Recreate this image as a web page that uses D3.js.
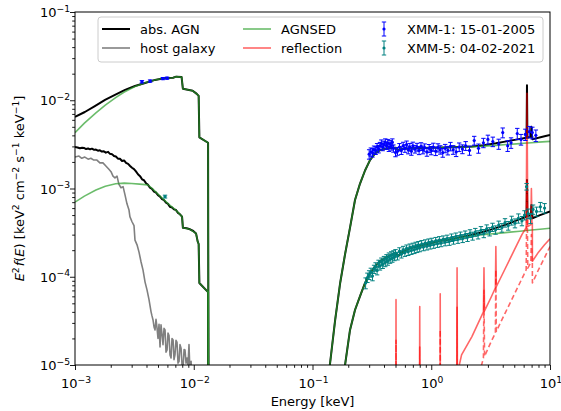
<!DOCTYPE html>
<html><head><meta charset="utf-8">
<script src="https://cdn.jsdelivr.net/npm/d3@7"></script>
<style>body{margin:0;background:#fff} text{font-family:"DejaVu Sans",sans-serif;}</style>
</head><body><svg id="c" width="561" height="411"></svg>
<script>
// ---------------- DATA ----------------
const xTicks = [1e-3, 1e-2, 1e-1, 1, 10];
const xTickExp = ["−3", "−2", "−1", "0", "1"];
const yTicks = [1e-5, 1e-4, 1e-3, 1e-2, 1e-1];
const yTickExp = ["−5", "−4", "−3", "−2", "−1"];

// abs. AGN, XMM-1 (upper) UV/optical part
const agnHiUV_E = [1.0e-3,1.21e-3,1.47e-3,1.79e-3,2.17e-3,2.64e-3,3.2e-3,3.89e-3,4.72e-3,5.73e-3,6.7e-3,7.1e-3,7.9e-3,8.1e-3,9.8e-3,1.06e-2,1.10e-2,1.115e-2,1.32e-2,1.34e-2];
const agnHiUV_F = [6.5e-3,7.36e-3,8.6e-3,1.01e-2,1.15e-2,1.31e-2,1.45e-2,1.57e-2,1.70e-2,1.79e-2,1.80e-2,1.85e-2,1.83e-2,1.35e-2,1.28e-2,1.18e-2,1.12e-2,3.8e-3,3.3e-3,1e-8];
// abs. AGN, XMM-5 (lower) UV/optical part
const agnLoUV_E = [1.00e-3,1.05e-3,1.10e-3,1.15e-3,1.19e-3,1.24e-3,1.29e-3,1.34e-3,1.39e-3,1.45e-3,1.50e-3,1.56e-3,1.62e-3,1.68e-3,1.75e-3,1.82e-3,1.90e-3,1.97e-3,2.05e-3,2.13e-3,2.21e-3,2.30e-3,2.39e-3,2.49e-3,2.59e-3,2.69e-3,2.80e-3,2.91e-3,3.02e-3,3.14e-3,3.26e-3,3.39e-3,3.53e-3,3.67e-3,3.81e-3,3.96e-3,4.12e-3,4.28e-3,4.45e-3,4.63e-3,4.81e-3,5.0e-3,5.2e-3,5.41e-3,5.62e-3,5.84e-3,6.07e-3,6.31e-3,6.56e-3,6.82e-3,7.09e-3,7.37e-3,7.66e-3,7.97e-3,8.1e-3,8.7e-3,9.3e-3,9.9e-3,1.045e-2,1.08e-2,1.10e-2,1.115e-2,1.32e-2,1.34e-2];
const agnLoUV_F = [2.95e-3,2.92e-3,2.86e-3,2.90e-3,2.88e-3,2.80e-3,2.84e-3,2.78e-3,2.83e-3,2.74e-3,2.76e-3,2.68e-3,2.71e-3,2.62e-3,2.64e-3,2.55e-3,2.60e-3,2.47e-3,2.45e-3,2.33e-3,2.30e-3,2.18e-3,2.17e-3,2.05e-3,2.08e-3,1.95e-3,1.90e-3,1.80e-3,1.72e-3,1.66e-3,1.56e-3,1.45e-3,1.38e-3,1.27e-3,1.24e-3,1.15e-3,1.10e-3,1.02e-3,9.9e-4,9.2e-4,9.0e-4,8.4e-4,8.1e-4,7.6e-4,7.4e-4,6.9e-4,6.7e-4,6.2e-4,6.1e-4,5.8e-4,5.7e-4,5.3e-4,5.1e-4,4.8e-4,3.6e-4,3.55e-4,3.45e-4,3.3e-4,3.1e-4,2.5e-4,2.35e-4,8.5e-5,6.7e-5,1e-8];
// abs. AGN X-ray parts
const agnHiX_E = [0.125,0.14,0.155,0.171,0.188,0.207,0.228,0.251,0.277,0.305,0.336,0.37,0.41,0.45,0.50,0.53,0.55,0.60,0.70,0.80,1.0,1.3,1.7,2.2,2.8,3.5,4.3,5.2,6.0,6.35,6.4,6.45,6.9,6.97,7.05,7.1,7.11,8.0,9.0,10.0];
const agnHiX_F = [4e-6,1.0e-5,3.2e-5,8.5e-5,1.8e-4,3.6e-4,7.4e-4,1.13e-3,1.6e-3,2.1e-3,2.5e-3,2.72e-3,2.82e-3,2.88e-3,2.9e-3,2.72e-3,2.78e-3,2.83e-3,2.86e-3,2.88e-3,2.9e-3,2.92e-3,2.95e-3,3.0e-3,3.1e-3,3.25e-3,3.42e-3,3.58e-3,3.7e-3,3.75e-3,1.48e-2,3.75e-3,3.85e-3,5.0e-3,3.87e-3,3.88e-3,3.62e-3,3.75e-3,3.9e-3,4.05e-3];
const agnLoX_E = [0.17,0.188,0.207,0.228,0.251,0.277,0.305,0.336,0.37,0.45,0.50,0.53,0.55,0.66,0.8,0.975,1.19,1.44,1.75,2.12,2.57,3.13,3.8,4.6,5.58,6.2,6.35,6.4,6.45,6.9,6.97,7.05,7.1,7.11,8.24,10.0];
const agnLoX_F = [3e-6,1.0e-5,2.5e-5,4.2e-5,6.0e-5,8.5e-5,1.1e-4,1.3e-4,1.5e-4,1.75e-4,1.85e-4,1.72e-4,1.85e-4,2.1e-4,2.25e-4,2.4e-4,2.55e-4,2.65e-4,2.8e-4,2.95e-4,3.15e-4,3.4e-4,3.7e-4,4.05e-4,4.5e-4,4.75e-4,4.8e-4,1.25e-3,4.85e-4,5.0e-4,6.5e-4,5.05e-4,5.1e-4,4.6e-4,5.0e-4,5.5e-4];

// host galaxy
const hostE = [1.0e-3,1.08e-3,1.14e-3,1.21e-3,1.29e-3,1.36e-3,1.44e-3,1.53e-3,1.62e-3,1.72e-3,1.82e-3,1.93e-3,2.01e-3,2.09e-3,2.17e-3,2.26e-3,2.34e-3,2.44e-3,2.54e-3,2.64e-3,2.74e-3,2.85e-3,2.9e-3,3.02e-3,3.14e-3,3.2e-3,3.33e-3,3.46e-3,3.6e-3,3.74e-3,3.89e-3,4.04e-3,4.2e-3,4.37e-3,4.45e-3,4.54e-3,4.63e-3,4.72e-3,4.81e-3,4.91e-3,5.0e-3,5.1e-3,5.2e-3,5.3e-3,5.41e-3,5.51e-3,5.62e-3,5.73e-3,5.84e-3,5.96e-3,6.07e-3,6.19e-3,6.31e-3,6.44e-3,6.56e-3,6.7e-3,6.82e-3,6.95e-3,7.09e-3,7.23e-3,7.37e-3,7.52e-3,7.66e-3,7.82e-3,7.97e-3,8.13e-3,8.29e-3,8.44e-3,8.61e-3,8.78e-3,8.95e-3,9.12e-3,9.3e-3,9.5e-3,9.7e-3];
const hostF = [2.27e-3,2.33e-3,2.2e-3,2.27e-3,2.15e-3,2.2e-3,2.1e-3,2.1e-3,1.95e-3,1.95e-3,1.8e-3,1.65e-3,1.55e-3,1.38e-3,1.32e-3,1.38e-3,1.12e-3,1.02e-3,1.05e-3,8.4e-4,6.7e-4,5.7e-4,4.8e-4,4.2e-4,3.8e-4,2.6e-4,2.3e-4,1.9e-4,1.47e-4,1.19e-4,8.7e-5,7.1e-5,5.5e-5,4.0e-5,3.6e-5,3.24e-5,2.7e-5,2.5e-5,3.3e-5,2.6e-5,2.0e-5,2.9e-5,1.6e-5,2.85e-5,2.2e-5,1.7e-5,2.6e-5,2.5e-5,1.4e-5,1.48e-5,2.3e-5,2.15e-5,1.3e-5,1.2e-5,2.0e-5,1.92e-5,1.15e-5,1.3e-5,1.9e-5,1.8e-5,1.05e-5,1.1e-5,1.7e-5,1.55e-5,1.0e-5,9.2e-6,1.5e-5,1.48e-5,1.05e-5,1.2e-5,1.0e-5,1.7e-5,8e-6,1.1e-5,5e-6];

// AGNSED (green)
const sedHiUV_E = [1.0e-3,1.2e-3,1.5e-3,1.8e-3,2.2e-3,2.6e-3,3.2e-3,3.9e-3,4.7e-3,5.73e-3,6.7e-3,7.1e-3,7.9e-3,8.1e-3,9.8e-3,1.06e-2,1.10e-2,1.115e-2,1.32e-2,1.34e-2];
const sedHiUV_F = [4.3e-3,5.5e-3,7.2e-3,8.8e-3,1.07e-2,1.24e-2,1.43e-2,1.58e-2,1.70e-2,1.79e-2,1.80e-2,1.85e-2,1.83e-2,1.35e-2,1.28e-2,1.18e-2,1.12e-2,3.8e-3,3.3e-3,1e-8];
const sedLoUV_E = [1.0e-3,1.2e-3,1.5e-3,1.8e-3,2.2e-3,2.6e-3,3.0e-3,3.5e-3,4.1e-3,4.5e-3,5.2e-3,6.1e-3,7.1e-3,7.97e-3,8.1e-3,9.3e-3,1.045e-2,1.08e-2,1.10e-2,1.115e-2,1.32e-2,1.34e-2];
const sedLoUV_F = [7.0e-4,8.2e-4,9.6e-4,1.06e-3,1.13e-3,1.15e-3,1.14e-3,1.12e-3,1.10e-3,9.9e-4,8.2e-4,6.7e-4,5.65e-4,4.8e-4,3.6e-4,3.45e-4,3.1e-4,2.5e-4,2.35e-4,8.5e-5,6.7e-5,1e-8];
const sedHiX_E = [0.125,0.14,0.155,0.171,0.188,0.207,0.228,0.251,0.277,0.305,0.336,0.37,0.41,0.45,0.50,0.53,0.55,0.60,0.70,0.80,1.0,1.3,1.7,2.2,2.8,3.5,4.3,5.2,6.0,7.0,8.0,10.0];
const sedHiX_F = [4e-6,1.0e-5,3.2e-5,8.5e-5,1.8e-4,3.6e-4,7.4e-4,1.13e-3,1.6e-3,2.1e-3,2.5e-3,2.72e-3,2.82e-3,2.88e-3,2.9e-3,2.72e-3,2.78e-3,2.83e-3,2.86e-3,2.88e-3,2.9e-3,2.92e-3,2.94e-3,2.97e-3,3.02e-3,3.08e-3,3.15e-3,3.2e-3,3.25e-3,3.3e-3,3.35e-3,3.42e-3];
const sedLoX_E = [0.17,0.188,0.207,0.228,0.251,0.277,0.305,0.336,0.37,0.45,0.50,0.53,0.55,0.66,0.8,0.975,1.19,1.44,1.75,2.12,2.57,3.13,3.8,4.6,5.58,7.0,8.24,10.0];
const sedLoX_F = [3e-6,1.0e-5,2.5e-5,4.2e-5,6.0e-5,8.5e-5,1.1e-4,1.3e-4,1.5e-4,1.75e-4,1.85e-4,1.72e-4,1.85e-4,2.1e-4,2.25e-4,2.4e-4,2.55e-4,2.65e-4,2.78e-4,2.9e-4,2.98e-4,3.05e-4,3.12e-4,3.2e-4,3.28e-4,3.38e-4,3.45e-4,3.55e-4];

// reflection (solid: XMM-1, dashed: XMM-5)
const reflHiE = [0.50,0.505,0.51,0.79,0.80,0.81,1.18,1.19,1.20,1.64,1.65,1.66,1.8,2.2,2.75,2.78,2.81,3.2,3.47,3.5,3.53,4.2,5.0,5.8,6.3,6.4,6.5,6.9,6.97,7.05,7.1,7.11,8.0,9.0,10.0];
const reflHiF = [1e-8,5.5e-5,1e-8,1e-8,4.6e-5,1e-8,1e-8,6.4e-5,1e-8,5e-6,1.26e-4,8e-6,1.3e-5,2.1e-5,4.0e-5,1.26e-4,4.1e-5,5.9e-5,7.5e-5,2.2e-4,7.7e-5,1.24e-4,2.0e-4,3.0e-4,3.6e-4,1.2e-2,3.7e-4,3.9e-4,1.0e-3,4.0e-4,4.1e-4,1.5e-4,1.9e-4,2.3e-4,2.7e-4];
const reflLoE = [0.50,0.505,0.51,0.79,0.80,0.81,1.18,1.19,1.20,1.64,1.65,1.66,2.4,2.75,2.78,2.81,3.2,3.47,3.5,3.53,4.2,5.0,5.8,6.3,6.4,6.5,6.9,6.97,7.05,7.1,7.11,8.0,9.0,10.0];
const reflLoF = [1e-8,1.9e-5,1e-8,1e-8,1.6e-5,1e-8,1e-8,2.5e-5,1e-8,1e-8,4.5e-5,1e-8,6e-6,1.2e-5,7e-5,1.25e-5,1.85e-5,2.3e-5,1.2e-4,2.4e-5,3.9e-5,6.3e-5,9.5e-5,1.2e-4,1.2e-3,1.25e-4,1.45e-4,3.0e-4,1.48e-4,1.5e-4,8.5e-5,1.2e-4,1.65e-4,2.2e-4];

// XMM-1 data (blue)
const xmm1E = [0.30,0.31,0.32,0.33,0.34,0.35,0.36,0.37,0.38,0.39,0.40,0.41,0.42,0.43,0.44,0.45,0.46,0.47,0.48,0.50,0.52,0.54,0.56,0.58,0.60,0.62,0.64,0.66,0.68,0.70,0.73,0.76,0.79,0.82,0.85,0.88,0.92,0.96,1.00,1.04,1.09,1.14,1.19,1.25,1.31,1.38,1.45,1.53,1.62,1.72,1.83,1.95,2.10,2.30,2.50,2.75,3.00,3.30,3.70,4.00,4.40,4.70,5.30,5.70,6.20,6.70,7.10,7.60];
const xmm1F = [2.45e-3,2.60e-3,2.55e-3,2.75e-3,2.70e-3,2.95e-3,2.80e-3,3.05e-3,3.25e-3,2.95e-3,3.15e-3,3.35e-3,3.05e-3,3.30e-3,2.90e-3,3.20e-3,3.00e-3,3.35e-3,2.85e-3,2.55e-3,2.65e-3,2.95e-3,2.70e-3,3.05e-3,2.85e-3,3.15e-3,2.75e-3,2.95e-3,2.65e-3,3.05e-3,2.80e-3,2.95e-3,2.70e-3,3.00e-3,2.75e-3,2.90e-3,2.60e-3,2.85e-3,2.70e-3,2.95e-3,2.65e-3,2.90e-3,2.75e-3,2.55e-3,2.85e-3,2.70e-3,3.00e-3,2.75e-3,2.60e-3,2.95e-3,2.80e-3,3.05e-3,2.70e-3,3.50e-3,2.85e-3,3.30e-3,3.60e-3,3.40e-3,3.20e-3,4.30e-3,3.05e-3,3.30e-3,4.20e-3,3.60e-3,4.10e-3,4.40e-3,4.30e-3,4.00e-3];
const xmm1Err = [3.0e-4,2.8e-4,2.8e-4,2.8e-4,2.7e-4,2.8e-4,2.7e-4,2.8e-4,3.0e-4,2.7e-4,2.8e-4,3.0e-4,2.8e-4,3.0e-4,2.7e-4,2.9e-4,2.8e-4,3.0e-4,2.7e-4,2.6e-4,2.7e-4,2.8e-4,2.7e-4,2.9e-4,2.8e-4,3.0e-4,2.8e-4,2.9e-4,2.7e-4,3.0e-4,2.8e-4,3.0e-4,2.8e-4,3.0e-4,2.8e-4,3.0e-4,2.8e-4,3.0e-4,2.9e-4,3.1e-4,2.9e-4,3.1e-4,3.0e-4,2.9e-4,3.1e-4,3.0e-4,3.3e-4,3.1e-4,3.0e-4,3.3e-4,3.2e-4,3.5e-4,3.2e-4,4.0e-4,3.4e-4,4.0e-4,4.2e-4,4.2e-4,4.2e-4,5.5e-4,4.2e-4,4.5e-4,6.0e-4,5.0e-4,6.0e-4,6.5e-4,6.5e-4,6.0e-4];
const uv1E = [3.66e-3,4.29e-3,5.5e-3,5.96e-3];
const uv1F = [1.62e-2,1.65e-2,1.76e-2,1.78e-2];
const uv1Err = [5e-4,5e-4,5e-4,5e-4];

// XMM-5 data (teal)
const xmm5E = [0.28,0.29,0.30,0.31,0.32,0.33,0.34,0.35,0.36,0.37,0.38,0.39,0.40,0.41,0.42,0.43,0.44,0.45,0.46,0.47,0.48,0.49,0.50,0.52,0.54,0.56,0.58,0.60,0.62,0.64,0.66,0.68,0.70,0.72,0.74,0.76,0.78,0.80,0.83,0.86,0.89,0.92,0.95,0.98,1.01,1.05,1.09,1.13,1.17,1.21,1.26,1.31,1.36,1.42,1.48,1.54,1.61,1.68,1.76,1.84,1.93,2.02,2.12,2.23,2.35,2.48,2.62,2.77,2.93,3.10,3.28,3.48,3.70,3.93,4.18,4.45,4.75,5.07,5.42,5.80,6.10,6.35,6.55,6.85,7.20,7.70,8.30,9.00];
const xmm5F = [8.5e-5,9.8e-5,1.05e-4,1.12e-4,1.02e-4,1.22e-4,1.30e-4,1.18e-4,1.40e-4,1.33e-4,1.48e-4,1.38e-4,1.55e-4,1.45e-4,1.62e-4,1.50e-4,1.70e-4,1.58e-4,1.75e-4,1.62e-4,1.80e-4,1.68e-4,1.85e-4,1.72e-4,1.95e-4,1.80e-4,2.02e-4,1.88e-4,2.10e-4,1.92e-4,2.15e-4,1.98e-4,2.20e-4,2.02e-4,2.25e-4,2.08e-4,2.30e-4,2.12e-4,2.35e-4,2.18e-4,2.40e-4,2.22e-4,2.45e-4,2.28e-4,2.50e-4,2.32e-4,2.55e-4,2.38e-4,2.60e-4,2.42e-4,2.65e-4,2.48e-4,2.70e-4,2.52e-4,2.78e-4,2.60e-4,2.85e-4,2.66e-4,2.92e-4,2.72e-4,3.00e-4,2.80e-4,3.10e-4,2.90e-4,3.20e-4,3.00e-4,3.35e-4,3.10e-4,3.50e-4,3.25e-4,3.65e-4,3.40e-4,3.85e-4,3.60e-4,4.10e-4,3.80e-4,4.35e-4,4.05e-4,4.60e-4,4.30e-4,5.00e-4,1.05e-3,5.20e-4,4.60e-4,5.80e-4,5.50e-4,6.20e-4,6.00e-4];
const xmm5Err = [1.2e-5,1.2e-5,1.2e-5,1.3e-5,1.2e-5,1.3e-5,1.4e-5,1.3e-5,1.4e-5,1.4e-5,1.5e-5,1.4e-5,1.5e-5,1.5e-5,1.6e-5,1.5e-5,1.6e-5,1.6e-5,1.7e-5,1.6e-5,1.7e-5,1.6e-5,1.8e-5,1.7e-5,1.8e-5,1.7e-5,1.9e-5,1.8e-5,1.9e-5,1.8e-5,2.0e-5,1.9e-5,2.0e-5,1.9e-5,2.1e-5,2.0e-5,2.1e-5,2.0e-5,2.2e-5,2.1e-5,2.2e-5,2.1e-5,2.3e-5,2.2e-5,2.3e-5,2.2e-5,2.4e-5,2.3e-5,2.5e-5,2.3e-5,2.5e-5,2.4e-5,2.6e-5,2.5e-5,2.7e-5,2.6e-5,2.8e-5,2.7e-5,2.9e-5,2.8e-5,3.0e-5,2.9e-5,3.1e-5,3.0e-5,3.3e-5,3.2e-5,3.5e-5,3.3e-5,3.7e-5,3.5e-5,3.9e-5,3.7e-5,4.2e-5,4.0e-5,4.5e-5,4.3e-5,5.0e-5,4.7e-5,5.5e-5,5.2e-5,6.0e-5,9.0e-5,6.5e-5,6.0e-5,7.0e-5,6.5e-5,7.5e-5,7.5e-5];
const uv5E = [5.73e-3];
const uv5F = [8.1e-4];
const uv5Err = [3e-5];

const legendLabels = ["abs. AGN","host galaxy","AGNSED","reflection","XMM-1: 15-01-2005","XMM-5: 04-02-2021"];

// ---------------- DRAW ----------------
const L=75, R=550, T=12, B=365;
const svg = d3.select("#c");
const x = d3.scaleLog().domain([1e-3,10]).range([L,R]);
const y = d3.scaleLog().domain([1e-5,1e-1]).range([B,T]);
const zip = (a,b)=>a.map((v,i)=>[v,b[i]]);

svg.append("defs").append("clipPath").attr("id","clip")
  .append("rect").attr("x",L).attr("y",T).attr("width",R-L).attr("height",B-T);
const plot = svg.append("g").attr("clip-path","url(#clip)");
const line = d3.line().x(d=>x(d[0])).y(d=>Math.min(y(Math.max(d[1],1e-9)),2000));

function drawLine(E,F,color,width,opacity,dash){
  plot.append("path").datum(zip(E,F)).attr("d",line).attr("fill","none")
    .attr("stroke",color).attr("stroke-width",width).attr("stroke-opacity",opacity)
    .attr("stroke-linejoin","round").attr("stroke-dasharray",dash||null);
}
// abs AGN
drawLine(agnHiUV_E,agnHiUV_F,"#000",2,1);
drawLine(agnLoUV_E,agnLoUV_F,"#000",2,1);
drawLine(agnHiX_E,agnHiX_F,"#000",2,1);
drawLine(agnLoX_E,agnLoX_F,"#000",2,1);
// host
drawLine(hostE,hostF,"#808080",1.6,1);
// AGNSED
const gcol="#2ca02c", gop=0.7;
drawLine(sedHiUV_E,sedHiUV_F,gcol,1.6,gop);
drawLine(sedLoUV_E,sedLoUV_F,gcol,1.6,gop);
drawLine(sedHiX_E,sedHiX_F,gcol,1.6,gop);
drawLine(sedLoX_E,sedLoX_F,gcol,1.6,gop);
// reflection
drawLine(reflHiE,reflHiF,"#ff0000",1.6,0.6);
drawLine(reflLoE,reflLoF,"#ff0000",1.6,0.6,"5,3");

// data
function drawData(E,F,Er,color){
  const g = plot.append("g");
  E.forEach((e,i)=>{
    const cx=x(e), y0=y(F[i]-Er[i]), y1=y(F[i]+Er[i]);
    g.append("line").attr("x1",cx).attr("x2",cx).attr("y1",y0).attr("y2",y1).attr("stroke",color).attr("stroke-width",1);
    g.append("line").attr("x1",cx-2.2).attr("x2",cx+2.2).attr("y1",y0).attr("y2",y0).attr("stroke",color).attr("stroke-width",1);
    g.append("line").attr("x1",cx-2.2).attr("x2",cx+2.2).attr("y1",y1).attr("y2",y1).attr("stroke",color).attr("stroke-width",1);
    g.append("circle").attr("cx",cx).attr("cy",y(F[i])).attr("r",1.6).attr("fill",color);
  });
}
drawData(xmm1E,xmm1F,xmm1Err,"#0000ff");
drawData(uv1E,uv1F,uv1Err,"#0000ff");
drawData(xmm5E,xmm5F,xmm5Err,"#008080");
drawData(uv5E,uv5F,uv5Err,"#008080");

// axes
const axG = svg.append("g");
function minorVals(lo,hi){ const r=[]; for(let p=lo;p<hi;p++) for(let m=2;m<=9;m++) r.push(m*Math.pow(10,p)); return r; }
axG.append("g").attr("transform",`translate(0,${B})`)
  .call(d3.axisBottom(x).tickValues(xTicks).tickFormat(()=>"").tickSize(5).tickSizeOuter(0));
axG.append("g").attr("transform",`translate(0,${B})`)
  .call(d3.axisBottom(x).tickValues(minorVals(-3,1)).tickFormat(()=>"").tickSize(2.8).tickSizeOuter(0));
axG.append("g").attr("transform",`translate(${L},0)`)
  .call(d3.axisLeft(y).tickValues(yTicks).tickFormat(()=>"").tickSize(5).tickSizeOuter(0));
axG.append("g").attr("transform",`translate(${L},0)`)
  .call(d3.axisLeft(y).tickValues(minorVals(-5,-1)).tickFormat(()=>"").tickSize(2.8).tickSizeOuter(0));
axG.selectAll("path.domain").remove();
axG.selectAll("line").attr("stroke","#000").attr("stroke-width",0.9);
svg.append("rect").attr("x",L).attr("y",T).attr("width",R-L).attr("height",B-T)
  .attr("fill","none").attr("stroke","#000").attr("stroke-width",1);

function powLabel(px,py,exp,anchor){
  const t = svg.append("text").attr("x",px).attr("y",py).attr("text-anchor",anchor)
    .attr("font-size",13).attr("fill","#000");
  t.append("tspan").text("10");
  t.append("tspan").attr("dy",-5.5).attr("font-size",9.2).text(exp);
}
xTicks.forEach((v,i)=>powLabel(x(v)+1,388,xTickExp[i],"middle"));
yTicks.forEach((v,i)=>powLabel(70,y(v)+5,yTickExp[i],"end"));

svg.append("text").attr("x",(L+R)/2).attr("y",406).attr("text-anchor","middle")
  .attr("font-size",13).text("Energy [keV]");

const yl = svg.append("text").attr("transform",`translate(24,${(T+B)/2}) rotate(-90)`)
  .attr("text-anchor","middle").attr("font-size",13);
const parts = [["E","i",0],["2","s",0],["f","i",1],["(","n",0],["E","i",0],[")","n",0],
  [" [keV","n",0],["2","s",0],[" cm","n",0],["−2","s",0],[" s","n",0],["−1","s",0],[" keV","n",0],["−1","s",0],["]","n",0]];
let prevSup=false;
parts.forEach(p=>{
  const ts = yl.append("tspan").text(p[0]);
  if(p[1]==="i") ts.attr("font-style","italic");
  if(p[1]==="s"){ ts.attr("font-size",9.2).attr("dy",prevSup?0:-5.5); prevSup=true; }
  else { if(prevSup) ts.attr("dy",5.5); prevSup=false; }
  if(p[2]) ts.attr("dx",1);
});

// legend
const lg = svg.append("g");
lg.append("rect").attr("x",98).attr("y",17).attr("width",445).attr("height",45).attr("rx",3)
  .attr("fill","#fff").attr("fill-opacity",0.8).attr("stroke","#cccccc").attr("stroke-width",1);
const rows=[29,48];
function legLine(x0,yy,color,op,w){ lg.append("line").attr("x1",x0).attr("x2",x0+28).attr("y1",yy).attr("y2",yy).attr("stroke",color).attr("stroke-opacity",op).attr("stroke-width",w); }
function legText(x0,yy,s){ lg.append("text").attr("x",x0).attr("y",yy+4.7).attr("font-size",13).text(s); }
function legErr(cx,yy,color){
  lg.append("line").attr("x1",cx).attr("x2",cx).attr("y1",yy-7).attr("y2",yy+7).attr("stroke",color);
  lg.append("line").attr("x1",cx-2.2).attr("x2",cx+2.2).attr("y1",yy-7).attr("y2",yy-7).attr("stroke",color);
  lg.append("line").attr("x1",cx-2.2).attr("x2",cx+2.2).attr("y1",yy+7).attr("y2",yy+7).attr("stroke",color);
  lg.append("circle").attr("cx",cx).attr("cy",yy).attr("r",1.6).attr("fill",color);
}
legLine(102,rows[0],"#000",1,2); legText(140,rows[0],legendLabels[0]);
legLine(102,rows[1],"#808080",1,1.6); legText(140,rows[1],legendLabels[1]);
legLine(243,rows[0],gcol,gop,1.6); legText(281,rows[0],legendLabels[2]);
legLine(243,rows[1],"#ff0000",0.6,1.6); legText(281,rows[1],legendLabels[3]);
legErr(384,rows[0],"#0000ff"); legText(407,rows[0],legendLabels[4]);
legErr(384,rows[1],"#008080"); legText(407,rows[1],legendLabels[5]);
</script></body></html>
